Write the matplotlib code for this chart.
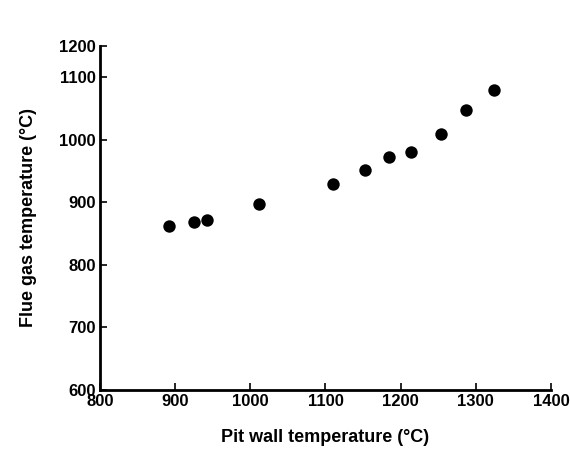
import matplotlib.pyplot as plt

plt.rcParams['font.family'] = ['Liberation Sans', 'DejaVu Sans']

# Pit wall temperature vs flue gas temperature
pit_wall = [892, 925, 943, 1012, 1110, 1153, 1185, 1214, 1253, 1287, 1324]
flue_gas = [862, 868, 872, 898, 930, 952, 972, 981, 1009, 1048, 1080]

x_ticks = [800, 900, 1000, 1100, 1200, 1300, 1400]
y_ticks = [600, 700, 800, 900, 1000, 1100, 1150]
y_tick_labels = ['600', '700', '800', '900', '1000', '1100', '1200']

fig = plt.figure(figsize=(5.7, 4.66), dpi=100)
ax = fig.add_axes([0.1754, 0.1631, 0.7913, 0.7382])

ax.scatter(pit_wall, flue_gas, s=80, color='black', zorder=3, linewidths=0)

ax.set_xlim(800, 1400)
ax.set_ylim(600, 1150)
ax.set_xticks(x_ticks)
ax.set_yticks(y_ticks)
ax.set_yticklabels(y_tick_labels)

for side in ['top', 'right']:
    ax.spines[side].set_visible(False)
for side in ['left', 'bottom']:
    ax.spines[side].set_linewidth(2)

ax.tick_params(direction='in', length=5, width=1.2, labelsize=12, pad=3)
for lbl in ax.get_xticklabels() + ax.get_yticklabels():
    lbl.set_fontweight('bold')

ax.set_xlabel('Pit wall temperature (°C)', fontsize=13, fontweight='bold', labelpad=14)
ax.set_ylabel('Flue gas temperature (°C)', fontsize=13, fontweight='bold', labelpad=16)

fig.savefig('out.png', dpi=100)
